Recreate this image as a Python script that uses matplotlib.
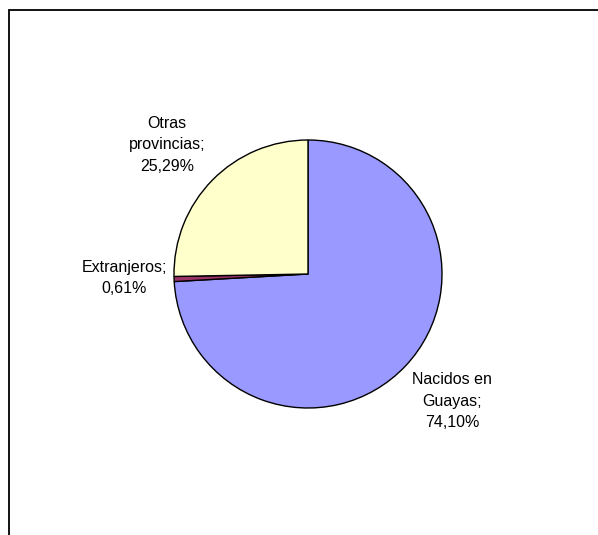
import matplotlib.pyplot as plt
from matplotlib.patches import Rectangle

# Daten
categorias = ["Nacidos en\nGuayas", "Extranjeros", "Otras\nprovincias"]
valores = [74.10, 0.61, 25.29]
colores = ["#9999FF", "#993366", "#FFFFCC"]
# Label positions in units of the pie radius
label_pos = [(1.075, -0.95), (-1.37, -0.03), (-1.05, 0.965)]

W, H = 598, 535
fig = plt.figure(figsize=(W / 100, H / 100), dpi=100)
plt.rcParams["font.family"] = "Liberation Sans"

# frame (clipped on right/bottom as in reference)
fig.patches.append(Rectangle((8.5 / W, -0.1), 1.2, 1 - 9.5 / H + 0.1,
                             transform=fig.transFigure, fill=False,
                             edgecolor="black", lw=1.3))

cx, cy, r = 308, 274, 134
ax = fig.add_axes([(cx - r) / W, 1 - (cy + r) / H, 2 * r / W, 2 * r / H])
ax.pie(valores, colors=colores, startangle=90, counterclock=False,
       wedgeprops=dict(edgecolor="black", linewidth=1.0), radius=1.0)
ax.set_xlim(-1, 1)
ax.set_ylim(-1, 1)
ax.set_aspect("equal")
ax.axis("off")

for cat, val, (lx, ly) in zip(categorias, valores, label_pos):
    txt = f"{cat};\n{val:.2f}%".replace(".", ",")
    ax.text(lx, ly, txt, ha="center", va="center", multialignment="center",
            fontsize=11.5, linespacing=1.55, clip_on=False)

fig.savefig("out.png", dpi=100)
